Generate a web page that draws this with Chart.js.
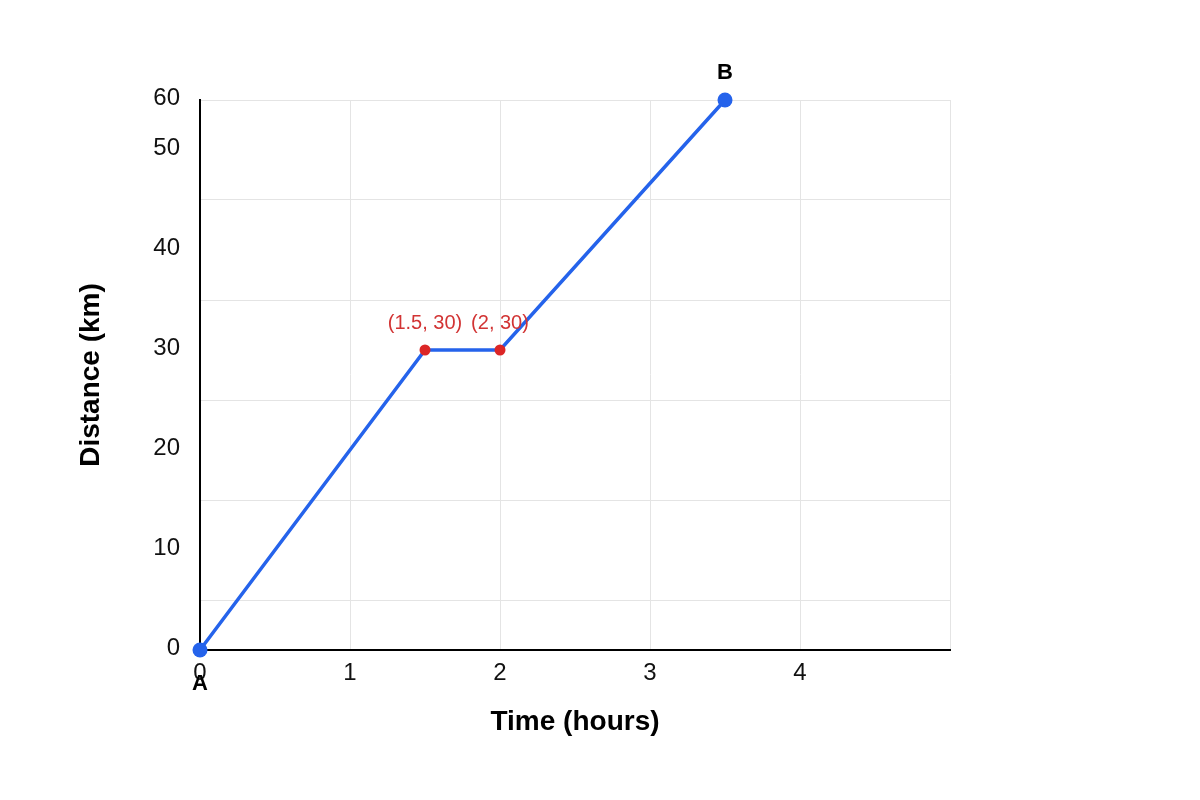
<!DOCTYPE html>
<html>
<head>
<meta charset="utf-8">
<script src="https://cdn.jsdelivr.net/npm/chart.js@4.4.1/dist/chart.umd.min.js"></script>
<style>
  html, body { margin: 0; padding: 0; background: #fff; }
  #wrap { width: 1200px; height: 800px; }
</style>
</head>
<body>
<div id="wrap"><canvas id="c" width="1200" height="800"></canvas></div>
<script>
// journey data
const times = [0, 1.5, 2, 3.5];
const distances = [0, 30, 30, 60];
const pointNames = ['A', '(1.5, 30)', '(2, 30)', 'B'];
const xTicks = [0, 1, 2, 3, 4];
const yTicks = [0, 10, 20, 30, 40, 50, 60];
const yGridLines = [5, 15, 25, 35, 45, 55];

const FONT = '"Liberation Sans", Arial, sans-serif';
const BLUE = '#2563eb';
const RED = '#dc2626';

/* the y axis in the picture is squeezed above 50:
   0..50 takes 500px and 50..60 only the last 50px */
class KinkedScale extends Chart.LinearScale {
  getPixelForValue(v) {
    if (v === null || v === undefined) return NaN;
    var dec = v <= 50 ? v / 55 : (50 + (v - 50) / 2) / 55;
    return this.getPixelForDecimal(dec);
  }
  getValueForPixel(p) {
    var u = this.getDecimalForPixel(p) * 55;
    return u <= 50 ? u : 50 + (u - 50) * 2;
  }
}
KinkedScale.id = 'kinked';
KinkedScale.defaults = Chart.LinearScale.defaults;
Chart.register(KinkedScale);

// text next to the points
const pointLabels = {
  id: 'pointLabels',
  afterDatasetsDraw(chart) {
    const ctx = chart.ctx;
    const meta = chart.getDatasetMeta(0);
    ctx.save();
    ctx.textAlign = 'center';
    ctx.textBaseline = 'middle';
    meta.data.forEach(function(pt, i) {
      var name = pointNames[i];
      if (name === 'A' || name === 'B') {
        ctx.font = 'bold 22px ' + FONT;
        ctx.fillStyle = '#000';
        ctx.fillText(name, pt.x, name === 'A' ? pt.y + 34 : pt.y - 27);
      } else {
        ctx.font = '20px ' + FONT;
        ctx.fillStyle = '#d23434';
        ctx.fillText(name, pt.x, pt.y - 27);
      }
    });
    ctx.restore();
  }
};

const ctx = document.getElementById('c');

new Chart(ctx, {
  type: 'line',
  data: {
    datasets: [{
      data: times.map(function(t, i) { return { x: t, y: distances[i] }; }),
      borderColor: BLUE,
      borderWidth: 3.5,
      pointRadius: [7.5, 5.5, 5.5, 7.5],
      pointHoverRadius: [7.5, 5.5, 5.5, 7.5],
      pointBackgroundColor: [BLUE, RED, RED, BLUE],
      pointBorderWidth: 0,
      tension: 0,
      clip: false
    }]
  },
  options: {
    responsive: false,
    animation: false,
    layout: { padding: { left: 0, right: 250, top: 100, bottom: 0 } },
    plugins: {
      legend: { display: false },
      tooltip: { enabled: false }
    },
    scales: {
      x: {
        type: 'linear',
        min: 0,
        max: 5,
        afterBuildTicks: function(s) { s.ticks = xTicks.concat([5]).map(function(v) { return { value: v }; }); },
        afterFit: function(s) { s.height = 150; },
        ticks: {
          padding: 9,
          color: '#111',
          font: { family: FONT, size: 24 },
          callback: function(v) { return xTicks.indexOf(v) >= 0 ? String(v) : ''; },
          maxRotation: 0
        },
        grid: { color: '#e4e4e4', lineWidth: 1, drawTicks: false },
        border: { color: '#000', width: 2 },
        title: {
          display: true,
          text: 'Time (hours)',
          color: '#000',
          font: { family: FONT, size: 28, weight: 'bold' },
          padding: { top: 0, bottom: 61 }
        }
      },
      y: {
        type: 'kinked',
        position: 'left',
        min: 0,
        max: 60,
        afterBuildTicks: function(s) { s.ticks = yTicks.map(function(v) { return { value: v }; }); },
        afterFit: function(s) { s.width = 200; },
        ticks: {
          padding: 20,
          labelOffset: -2,
          color: '#111',
          font: { family: FONT, size: 24 }
        },
        grid: { display: false, drawTicks: false },
        border: { color: '#000', width: 2 },
        title: {
          display: true,
          text: 'Distance (km)',
          color: '#000',
          font: { family: FONT, size: 28, weight: 'bold' },
          padding: { top: 74, bottom: 0 }
        }
      },
      yg: {
        type: 'linear',
        position: 'right',
        min: 0,
        max: 55,
        afterBuildTicks: function(s) { s.ticks = yGridLines.map(function(v) { return { value: v }; }); },
        afterFit: function(s) { s.width = 0; },
        ticks: { display: false },
        grid: { color: '#e4e4e4', lineWidth: 1, drawTicks: false },
        border: { display: false }
      }
    }
  },
  plugins: [pointLabels]
});
</script>
</body>
</html>
